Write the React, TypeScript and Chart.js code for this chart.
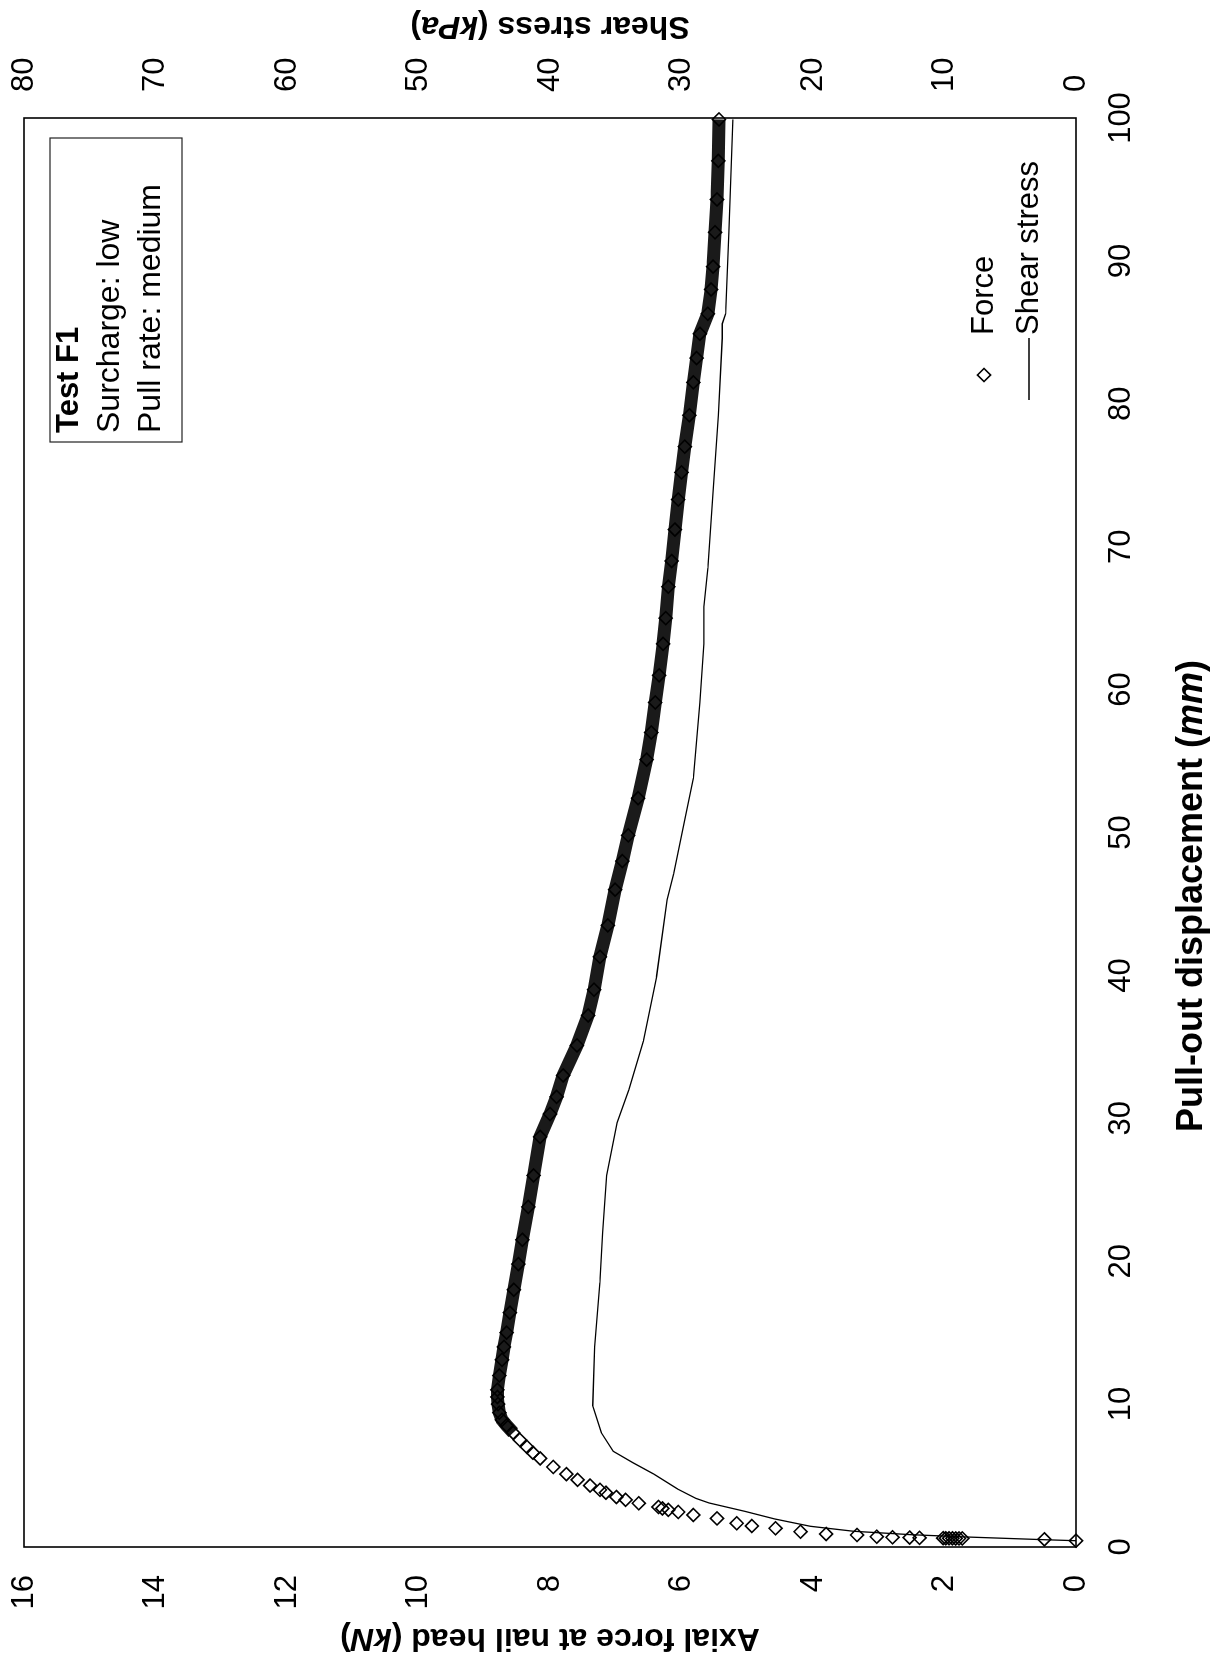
import React, { useEffect, useRef } from 'react';
import { Chart, registerables } from 'chart.js';

Chart.register(...registerables);

// ---- data ----
// Force at nail head: [pull-out displacement (mm), axial force (kN)]
const forcePoints: [number, number][] = [
  [0.44, 0.0], [0.54, 0.48], [0.60, 1.73], [0.60, 1.78], [0.60, 1.83], [0.61, 1.88],
  [0.61, 1.93], [0.61, 1.98], [0.62, 2.02], [0.64, 2.38], [0.66, 2.53], [0.68, 2.79],
  [0.72, 3.03], [0.84, 3.33], [0.91, 3.80], [1.07, 4.19], [1.31, 4.57], [1.47, 4.93],
  [1.66, 5.16], [2.0, 5.46], [2.24, 5.82], [2.45, 6.05], [2.6, 6.2], [2.7, 6.29],
  [2.8, 6.35], [3.06, 6.65], [3.3, 6.85], [3.5, 6.99], [3.8, 7.15], [4.0, 7.24],
  [4.3, 7.39], [4.7, 7.58], [5.1, 7.75], [5.6, 7.95], [6.2, 8.15], [6.6, 8.26],
  [7.0, 8.35], [7.5, 8.46], [8.0, 8.56], [8.5, 8.66], [8.9, 8.73], [9.4, 8.77],
  [10.0, 8.79], [10.5, 8.80], [11, 8.80], [12, 8.77], [13.1, 8.73], [14, 8.70],
  [15, 8.66], [16.4, 8.61], [18, 8.55], [19.8, 8.48], [21.5, 8.42], [23.8, 8.33],
  [26, 8.25], [28.7, 8.15], [30.3, 8.0], [31.5, 7.9], [33.0, 7.80], [35.1, 7.59],
  [37.2, 7.42], [39, 7.33], [41.3, 7.24], [43.5, 7.12], [46, 7.01], [48, 6.90],
  [49.8, 6.81], [52.4, 6.66], [55.1, 6.53], [57, 6.46], [59.1, 6.40], [61, 6.34],
  [63.2, 6.28], [65, 6.24], [67.2, 6.20], [69, 6.15], [71.2, 6.10], [73.3, 6.05],
  [75.2, 6.0], [77, 5.95], [79.2, 5.88], [81.5, 5.82], [83.2, 5.77], [84.9, 5.72],
  [86.3, 5.6], [88, 5.55], [89.6, 5.52], [92, 5.49], [94.3, 5.46], [97, 5.44], [99.9, 5.43],
];

// Shear stress: [pull-out displacement (mm), shear stress (kPa)]
const shearPoints: [number, number][] = [
  [0.44, 0], [0.51, 2.4], [0.7, 8.3], [0.86, 12.5], [1.1, 16.9], [1.45, 20.2],
  [1.96, 22.9], [2.5, 25.2], [3.08, 27.9], [3.4, 28.9], [4.06, 30.3], [5.1, 32.1],
  [5.9, 33.7], [6.7, 35.2], [8.0, 36.1], [9.9, 36.75], [14, 36.6], [18.5, 36.2],
  [22, 36.0], [26, 35.7], [29.7, 34.9], [32, 34.0], [35.4, 32.9], [39.9, 31.9],
  [45.3, 31.1], [47.1, 30.6], [51.1, 29.7], [53.8, 29.1], [59.1, 28.6], [63.2, 28.3],
  [65.8, 28.3], [68.5, 28.0], [73.9, 27.6], [79.2, 27.2], [84.6, 26.9], [85.6, 26.9],
  [86.3, 26.65], [92, 26.4], [99.9, 26.1],
];

const xRange = [0, 100];
const forceRange = [0, 16];
const shearRange = [0, 80];
const xStep = 10;
const forceStep = 2;
const shearStep = 10;

const xTitle = ['Pull-out displacement (', 'mm', ')'];
const forceTitle = ['Axial force at nail head (', 'kN', ')'];
const shearTitle = ['Shear stress (', 'kPa', ')'];
const boxLines = ['Test F1', 'Surcharge: low', 'Pull rate: medium'];
const legendLabels = ['Force', 'Shear stress'];

// ---- layout (unrotated frame; the canvas is turned 90° counter-clockwise) ----
const W = 1663;
const H = 1211;
const FONT = "'Liberation Sans', Arial, Helvetica, sans-serif";

type Run = { text: string; font: string };

function drawRuns(ctx: CanvasRenderingContext2D, runs: Run[], x: number, y: number, align: 'center' | 'left') {
  const widths = runs.map((r) => {
    ctx.font = r.font;
    return ctx.measureText(r.text).width;
  });
  const total = widths.reduce((a, b) => a + b, 0);
  let cx = align === 'center' ? x - total / 2 : x;
  ctx.textAlign = 'left';
  runs.forEach((r, i) => {
    ctx.font = r.font;
    ctx.fillText(r.text, cx, y);
    cx += widths[i];
  });
}

function titleRuns(parts: string[], size: number): Run[] {
  const B = `bold ${size}px ${FONT}`;
  const BI = `italic bold ${size}px ${FONT}`;
  return [
    { text: parts[0], font: B },
    { text: parts[1], font: BI },
    { text: parts[2], font: B },
  ];
}

const decor = {
  id: 'decor',
  beforeDatasetsDraw(chart: any) {
    const { ctx, chartArea: a } = chart;
    ctx.save();
    ctx.strokeStyle = '#000';
    ctx.lineWidth = 1.6;
    ctx.strokeRect(a.left, a.top, a.right - a.left, a.bottom - a.top);
    ctx.restore();
  },
  afterDraw(chart: any) {
    const { ctx, chartArea: a } = chart;
    const midV = (a.top + a.bottom) / 2;
    ctx.save();
    ctx.fillStyle = '#000';
    ctx.strokeStyle = '#000';
    ctx.textBaseline = 'alphabetic';

    // bottom axis title
    drawRuns(ctx, titleRuns(xTitle, 36), 767, 1202, 'center');

    // left axis title (reads bottom-to-top)
    ctx.save();
    ctx.translate(34, midV);
    ctx.rotate(-Math.PI / 2);
    drawRuns(ctx, titleRuns(forceTitle, 32), 0, 0, 'center');
    ctx.restore();

    // right axis title (reads bottom-to-top as well)
    ctx.save();
    ctx.translate(1646, midV);
    ctx.rotate(-Math.PI / 2);
    drawRuns(ctx, titleRuns(shearTitle, 32), 0, 0, 'center');
    ctx.restore();

    // info box
    ctx.lineWidth = 1.2;
    ctx.strokeStyle = '#222';
    ctx.strokeRect(a.right - 324, a.top + 26, 304, 132);
    ctx.textAlign = 'left';
    ctx.font = `bold 31px ${FONT}`;
    ctx.fillText(boxLines[0], a.right - 315, a.top + 54);
    ctx.font = `32px ${FONT}`;
    ctx.fillText(boxLines[1], a.right - 315, a.top + 95);
    ctx.fillText(boxLines[2], a.right - 315, a.top + 136);

    // legend
    const lx = a.right - 257;
    const fy = a.bottom - 92;
    const sy = a.bottom - 47;
    ctx.lineWidth = 1.6;
    ctx.strokeStyle = '#000';
    const r = 6.5;
    ctx.beginPath();
    ctx.moveTo(lx, fy - r);
    ctx.lineTo(lx + r, fy);
    ctx.lineTo(lx, fy + r);
    ctx.lineTo(lx - r, fy);
    ctx.closePath();
    ctx.stroke();
    ctx.beginPath();
    ctx.moveTo(lx - 25, sy);
    ctx.lineTo(lx + 37, sy);
    ctx.lineWidth = 1.3;
    ctx.stroke();
    ctx.font = `31px ${FONT}`;
    ctx.textBaseline = 'middle';
    ctx.fillText(legendLabels[0], lx + 40, fy);
    ctx.fillText(legendLabels[1], lx + 40, sy);
    ctx.restore();
  },
};

export default function App() {
  const ref = useRef<HTMLCanvasElement | null>(null);

  useEffect(() => {
    if (!ref.current) return;
    const tickFont = { family: FONT, size: 31 };
    const noPadY = (width: number) => (s: any) => {
      s.width = width;
      s.paddingTop = 0;
      s.paddingBottom = 0;
    };
    const chart = new Chart(ref.current, {
      type: 'scatter',
      data: {
        datasets: [
          {
            label: legendLabels[0],
            data: forcePoints.map(([x, y]) => ({ x, y })),
            yAxisID: 'y',
            showLine: true,
            borderColor: '#1a1a1a',
            borderWidth: 13,
            segment: {
              borderColor: (c: any) => (c.p0.parsed.x >= 8 ? '#1a1a1a' : 'rgba(0,0,0,0)'),
            },
            pointStyle: 'rectRot',
            pointRadius: 6.5,
            pointBorderWidth: 1.6,
            pointBorderColor: '#000',
            pointBackgroundColor: 'rgba(0,0,0,0)',
            tension: 0,
            clip: 12,
          } as any,
          {
            label: legendLabels[1],
            data: shearPoints.map(([x, y]) => ({ x, y })),
            yAxisID: 'y2',
            showLine: true,
            borderColor: '#000',
            borderWidth: 1.3,
            pointRadius: 0,
            tension: 0,
            clip: 4,
          } as any,
        ],
      },
      options: {
        animation: false,
        responsive: false,
        maintainAspectRatio: false,
        events: [],
        layout: { padding: { top: 24, left: 0, right: 0, bottom: 0 } },
        plugins: {
          legend: { display: false },
          tooltip: { enabled: false },
          title: { display: false },
        },
        scales: {
          x: {
            type: 'linear',
            position: 'bottom',
            min: xRange[0],
            max: xRange[1],
            ticks: { stepSize: xStep, font: tickFont, color: '#000', padding: 27, maxRotation: 0 },
            grid: { display: false, drawTicks: false },
            border: { display: false },
            afterFit: (s: any) => {
              s.height = 135;
              s.paddingLeft = 0;
              s.paddingRight = 0;
            },
          },
          y: {
            type: 'linear',
            position: 'left',
            min: forceRange[0],
            max: forceRange[1],
            ticks: { stepSize: forceStep, font: tickFont, color: '#000', padding: 28 },
            grid: { display: false, drawTicks: false },
            border: { display: false },
            afterFit: noPadY(116),
          },
          y2: {
            type: 'linear',
            position: 'right',
            min: shearRange[0],
            max: shearRange[1],
            ticks: { stepSize: shearStep, font: tickFont, color: '#000', padding: 26 },
            grid: { display: false, drawTicks: false },
            border: { display: false },
            afterFit: noPadY(118),
          },
        },
      } as any,
      plugins: [decor],
    });
    return () => chart.destroy();
  }, []);

  return (
    <div
      style={{
        position: 'absolute',
        left: 0,
        top: 0,
        width: H,
        height: W,
        overflow: 'hidden',
        background: '#fff',
      }}
    >
      <canvas
        ref={ref}
        width={W}
        height={H}
        style={{
          position: 'absolute',
          left: 0,
          top: 0,
          width: W + 'px',
          height: H + 'px',
          transformOrigin: '0 0',
          transform: `translate(0px, ${W}px) rotate(-90deg)`,
        }}
      />
    </div>
  );
}
